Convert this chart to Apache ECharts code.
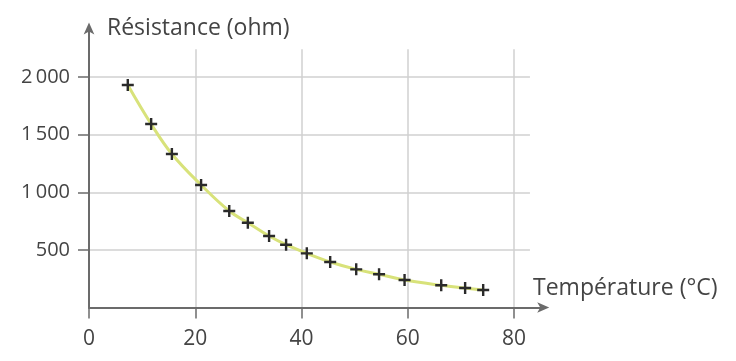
<!DOCTYPE html>
<html><head><meta charset="utf-8">
<style>html,body{margin:0;padding:0;background:#fff;}#c{width:736px;height:361px;}</style>
<script src="https://cdn.jsdelivr.net/npm/echarts@6/dist/echarts.min.js"></script>
</head><body><div id="c"></div>
<script>
const temperature = [7.3, 11.7, 15.6, 21.1, 26.4, 29.9, 33.9, 37.1, 41.0, 45.4, 50.3, 54.6, 59.4, 66.3, 70.8, 74.2];
const resistance = [1931, 1592, 1332, 1063, 837, 736, 620, 545, 470, 395, 331, 288, 239, 193, 169, 152];
const xTicks = [0, 20, 40, 60, 80];
const yTickLabels = {500: '500', 1000: '1\u2009000', 1500: '1\u2009500', 2000: '2\u2009000'};
const xTitle = 'Température (°C)';
const yTitle = 'Résistance (ohm)';

const pxX = 5.3125, pxY = 0.11525;
const x0 = 89, y0 = 307.5;
const font = 'Open Sans';
const txt = '#444';
const axisCol = '#6b6b6b';

const chart = echarts.init(document.getElementById('c'), null, {renderer: 'canvas'});
const xMaxA = 85.5, yMaxA = 2420, xMaxB = 83, yMaxB = 2240;
chart.setOption({
  animation: false,
  grid: [
    {left: x0, top: y0 - yMaxA * pxY, width: xMaxA * pxX, height: yMaxA * pxY},
    {left: x0, top: y0 - yMaxB * pxY, width: xMaxB * pxX, height: yMaxB * pxY}
  ],
  xAxis: [
    {gridIndex: 0, type: 'value', min: 0, max: xMaxA, interval: 20,
      axisLine: {show: true, lineStyle: {color: axisCol, width: 2}, symbol: ['none', 'arrow'], symbolSize: [8, 12], symbolOffset: [0, 6]},
      axisTick: {show: true, length: 11, lineStyle: {color: axisCol, width: 1.5},
        customValues: xTicks},
      axisLabel: {show: true, color: txt, fontFamily: font, fontSize: 21, margin: 21,
        customValues: xTicks},
      splitLine: {show: false}},
    {gridIndex: 1, type: 'value', min: 0, max: xMaxB, interval: 20,
      axisLine: {show: false}, axisTick: {show: false}, axisLabel: {show: false},
      splitLine: {show: true, showMinLine: false, showMaxLine: false, lineStyle: {color: '#d0d0d0', width: 1.5}}}
  ],
  yAxis: [
    {gridIndex: 0, type: 'value', min: 0, max: yMaxA, interval: 500,
      axisLine: {show: true, lineStyle: {color: axisCol, width: 2}, symbol: ['none', 'arrow'], symbolSize: [8, 12], symbolOffset: [0, 6]},
      axisTick: {show: true, length: 11, lineStyle: {color: axisCol, width: 1.5},
        customValues: [500, 1000, 1500, 2000]},
      axisLabel: {show: true, color: txt, fontFamily: font, fontSize: 20, margin: 19,
        customValues: [500, 1000, 1500, 2000],
        formatter: v => yTickLabels[v] || ''},
      splitLine: {show: false}},
    {gridIndex: 1, type: 'value', min: 0, max: yMaxB, interval: 500,
      axisLine: {show: false}, axisTick: {show: false}, axisLabel: {show: false},
      splitLine: {show: true, showMinLine: false, showMaxLine: false, lineStyle: {color: '#d0d0d0', width: 1.5}}}
  ],
  title: [
    {text: yTitle, left: 102, top: 12, textStyle: {color: txt, fontFamily: font, fontSize: 23, fontWeight: 'normal'}},
    {text: xTitle, left: 528, top: 272, textStyle: {color: txt, fontFamily: font, fontSize: 23, fontWeight: 'normal'}}
  ],
  series: [{
    type: 'line', xAxisIndex: 0, yAxisIndex: 0,
    data: temperature.map((t, i) => [t, resistance[i]]),
    smooth: 0.4,
    lineStyle: {color: '#d8e27a', width: 3},
    symbol: 'path://M4,0H6V4H10V6H6V10H4V6H0V4H4Z',
    symbolSize: 12,
    itemStyle: {color: '#2a2a2a'},
    z: 5
  }]
});
</script></body></html>
